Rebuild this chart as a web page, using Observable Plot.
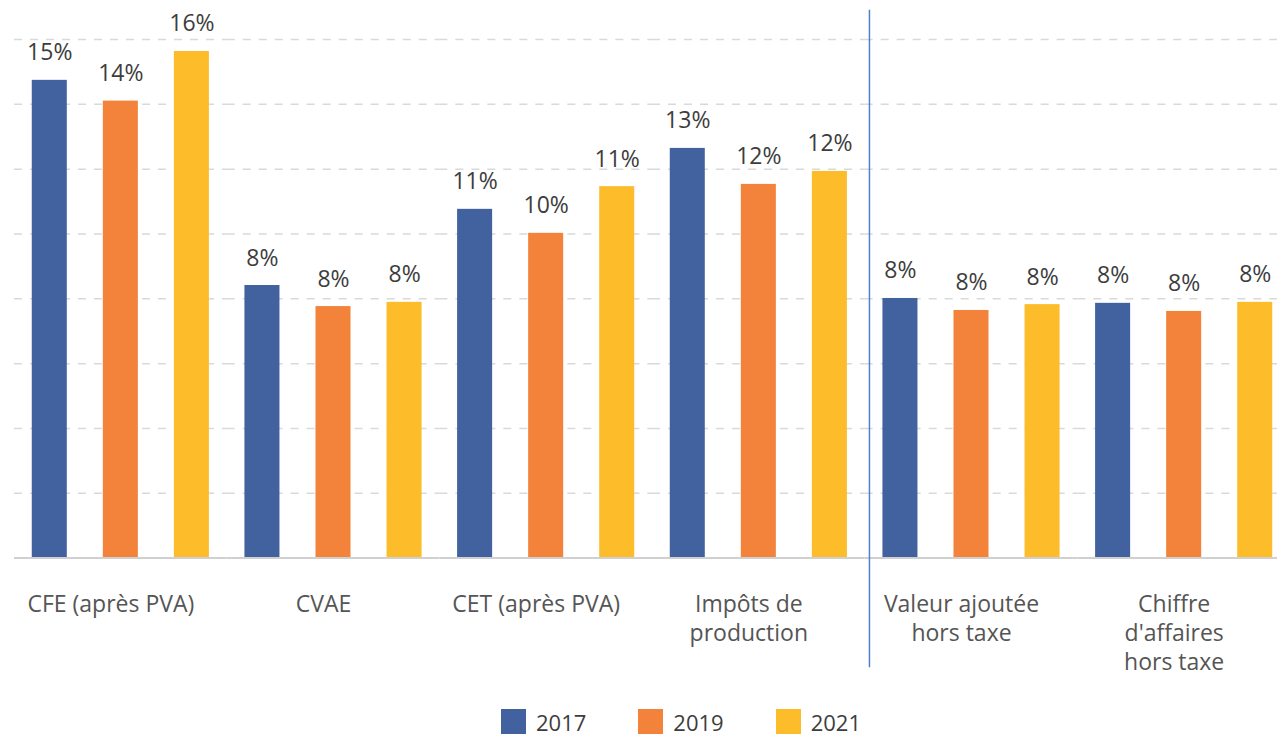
<!DOCTYPE html>
<html>
<head>
<meta charset="utf-8">
<script src="https://cdn.jsdelivr.net/npm/d3@7"></script>
<script src="https://cdn.jsdelivr.net/npm/@observablehq/plot@0.6"></script>
<style>
  html, body { margin: 0; padding: 0; background: white; overflow: hidden; }
  #wrap { width: 1277px; overflow: hidden; }
  #wrap svg { max-width: none !important; }
  #legend { display: flex; align-items: flex-end; margin-left: 501px; margin-top: 9px; line-height: 1;
            font-family: "Open Sans", sans-serif; font-size: 22px; color: #3d3d3d; }
  #legend .item { display: flex; align-items: flex-end; margin-right: 52px; }
  #legend .sw { width: 25px; height: 25px; margin-right: 10px; }
  #legend span { position: relative; top: -1px; }
</style>
</head>
<body>
<div id="wrap"></div>
<div id="legend"></div>
<script>
const groups = ["CFE (après PVA)", "CVAE", "CET (après PVA)", "Impôts de\nproduction", "Valeur ajoutée\nhors taxe", "Chiffre\nd'affaires\nhors taxe"];
const years = ["2017", "2019", "2021"];
const v2017 = [14.74, 8.41, 10.76, 12.64, 8.01, 7.86];
const v2019 = [14.10, 7.76, 10.02, 11.53, 7.64, 7.61];
const v2021 = [15.63, 7.89, 11.46, 11.93, 7.82, 7.89];
const colors = ["#41629f", "#f3833b", "#fdbd2b"];
const gridTicks = [2, 4, 6, 8, 10, 12, 14, 16];
const separatorGroup = groups[4];

const series = [v2017, v2019, v2021];
const data = [];
groups.forEach((g, i) => years.forEach((y, j) => data.push({group: g, year: y, value: series[j][i]})));

const font = "'Open Sans', sans-serif";

const chart = Plot.plot({
  width: 1290,
  height: 700,
  marginLeft: 14,
  marginRight: 0,
  marginTop: 39,
  marginBottom: 142.4,
  style: {fontFamily: font, fontSize: "22px", background: "white", maxWidth: "none"},
  fx: {domain: groups, padding: 0, round: false, axis: null},
  x: {domain: years, paddingInner: 0.507, paddingOuter: 0.25, round: false, axis: null},
  y: {domain: [0, 16], axis: null},
  color: {domain: years, range: colors},
  marks: [
    Plot.ruleY(gridTicks, {stroke: "#d9d9d9", strokeWidth: 1.5, strokeDasharray: "8,8"}),
    Plot.barY(data, {fx: "group", x: "year", y: "value", fill: "year"}),
    Plot.ruleY([0], {stroke: "#d0d0d0", strokeWidth: 2}),
    Plot.text(data, {fx: "group", x: "year", y: "value", text: d => Math.round(d.value) + "%",
      lineAnchor: "bottom", dy: -20, fill: "#3d3d3d", fontSize: 23}),
    Plot.text(groups, {fx: d => d, text: d => d, frameAnchor: "bottom", lineAnchor: "top",
      dy: 33, dx: -10, lineHeight: 1.27, fill: "#555555", fontSize: 23}),
    Plot.ruleX([separatorGroup], {fx: d => d, x: () => "2017", y1: 16.9, y2: -3.38, dx: -31,
      stroke: "#5080c8", strokeWidth: 1.5})
  ]
});
document.getElementById("wrap").appendChild(chart);

const legend = document.getElementById("legend");
years.forEach((y, i) => {
  const item = document.createElement("div");
  item.className = "item";
  const sw = document.createElement("div");
  sw.className = "sw";
  sw.style.background = colors[i];
  const t = document.createElement("span");
  t.textContent = y;
  item.appendChild(sw);
  item.appendChild(t);
  legend.appendChild(item);
});
</script>
</body>
</html>
